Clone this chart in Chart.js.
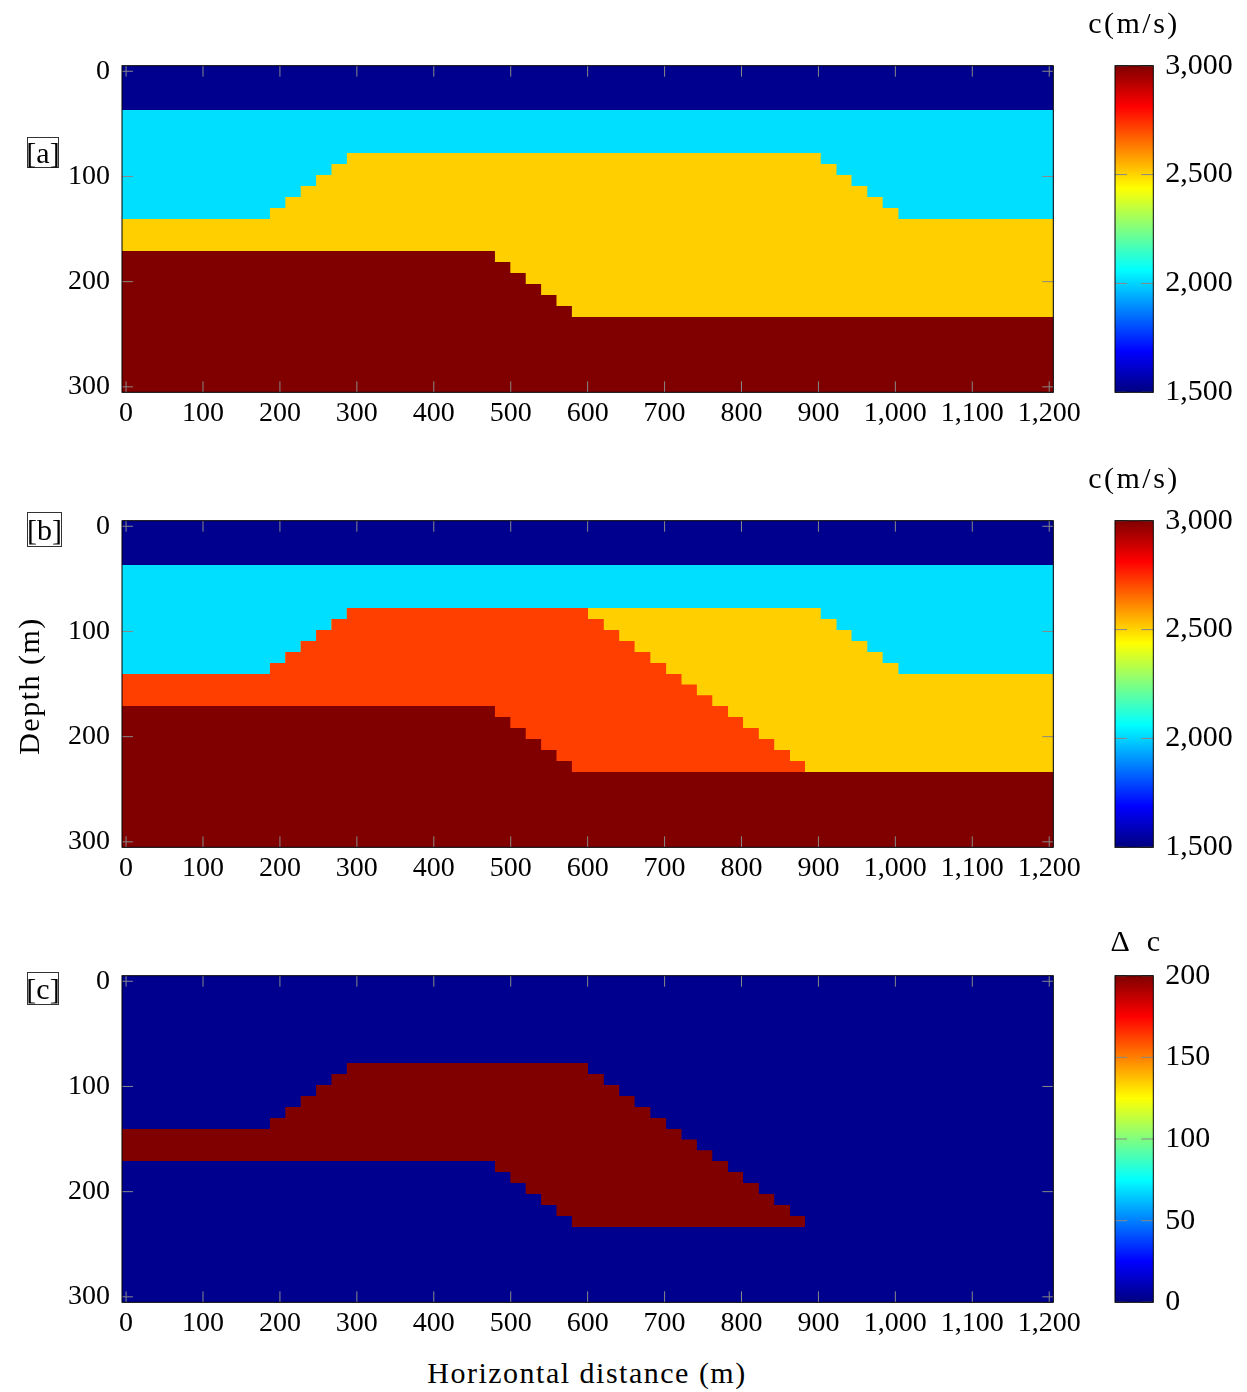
<!DOCTYPE html>
<html>
<head>
<meta charset="utf-8">
<script src="https://cdn.jsdelivr.net/npm/chart.js@4.4.1/dist/chart.umd.min.js"></script>
<style>
  html, body { margin: 0; padding: 0; background: #fff; }
  body { width: 1247px; height: 1392px; position: relative; overflow: hidden; font-family: "Liberation Serif", serif; color: #000; }
  .box { position: absolute; }
  canvas { display: block; }
  .txt { position: absolute; font-size: 30px; line-height: 1; letter-spacing: 1.5px; white-space: nowrap; transform: translate(-50%, -50%); }
  .tag { position: absolute; box-sizing: border-box; border: 1px solid #333; font-size: 30px; line-height: 1; display: flex; align-items: center; justify-content: center; }
</style>
</head>
<body>
<div class="box" style="left:0;top:0"><canvas id="panelA" width="1095" height="445"></canvas></div>
<div class="box" style="left:0;top:455px"><canvas id="panelB" width="1095" height="445"></canvas></div>
<div class="box" style="left:0;top:910px"><canvas id="panelC" width="1095" height="445"></canvas></div>
<div class="box" style="left:1095px;top:0"><canvas id="barA" width="152" height="445"></canvas></div>
<div class="box" style="left:1095px;top:455px"><canvas id="barB" width="152" height="445"></canvas></div>
<div class="box" style="left:1095px;top:910px"><canvas id="barC" width="152" height="445"></canvas></div>

<div class="tag" style="left:27px;top:137px;width:32px;height:31px">[a]</div>
<div class="tag" style="left:27px;top:512px;width:35px;height:35px">[b]</div>
<div class="tag" style="left:27px;top:972px;width:32px;height:33px">[c]</div>

<div class="txt" style="left:1134px;top:23px;letter-spacing:2.5px">c(m/s)</div>
<div class="txt" style="left:1134px;top:478px;letter-spacing:2.5px">c(m/s)</div>
<div class="txt" style="left:1136px;top:941px;word-spacing:8px">Δ c</div>
<div class="txt" style="left:29px;top:686px;transform:translate(-50%,-50%) rotate(-90deg)">Depth (m)</div>
<div class="txt" style="left:587px;top:1373px">Horizontal distance (m)</div>

<script>
// --- data ---
const xTicks = [0, 100, 200, 300, 400, 500, 600, 700, 800, 900, 1000, 1100, 1200];
const depthTicks = [0, 100, 200, 300];
const velTicks = [1500, 2000, 2500, 3000];
const deltaTicks = [0, 50, 100, 150, 200];

// interfaces: [x where the step starts (m), depth (m)]
const waterBottom = [[-10, 36.8], [1210, 36.8]];
const sedimentTop = [[-10, 140.4], [187, 130.0], [207, 119.5], [227, 109.0], [247, 98.6], [267, 88.1],
  [287, 77.7], [903, 88.1], [923.5, 98.6], [943, 109.0], [963.5, 119.5], [983.5, 130.0], [1004, 140.4], [1210, 140.4]];
const basementTop = [[-10, 170.9], [479.5, 181.3], [499.5, 191.8], [519.5, 202.3], [539.5, 212.7],
  [559.5, 223.2], [579.5, 233.6], [1210, 233.6]];
const anomalyRight = [[600.5, 88.1], [621, 98.6], [641, 109.0], [661, 119.5], [681.5, 130.0], [702, 140.4],
  [722, 150.4], [742, 160.7], [762, 170.9], [782.5, 181.3], [802, 191.8], [822.5, 202.3], [842.5, 212.7],
  [863, 223.2], [882.5, 233.6], [1210, 233.6]];

// layer colours (jet colormap of the velocities)
const WATER = '#00008f';
const UPPER = '#00dfff';
const SEDIMENT = '#ffcf00';
const ANOMALY = '#ff3f00';
const BASEMENT = '#800000';
const JET = ['#000080', '#0000ff', '#00ffff', '#ffff00', '#ff0000', '#800000'];
const JET_POS = [0, 1 / 8, 3 / 8, 5 / 8, 7 / 8, 1];

const FONT = "'Liberation Serif', serif";
Chart.defaults.font.family = FONT;
Chart.defaults.color = '#000';

// the anomaly top follows the sediment top until the diagonal starts
const anomalyTop = sedimentTop.filter(p => p[0] < anomalyRight[0][0]).concat(anomalyRight);

const toPts = arr => arr.map(p => ({ x: p[0], y: p[1] }));
const fmt = v => Number(v).toLocaleString('en-US');

// --- plugins ---
const background = {
  id: 'background',
  beforeDraw(chart, args, opts) {
    if (!opts.color) return;
    const a = chart.chartArea;
    chart.ctx.save();
    chart.ctx.fillStyle = opts.color;
    chart.ctx.fillRect(a.left, a.top, a.width, a.height);
    chart.ctx.restore();
  }
};

const frameTicks = {
  id: 'frameTicks',
  afterDatasetsDraw(chart, args, opts) {
    const { ctx, chartArea: a, scales } = chart;
    const len = opts.len || 11;
    ctx.save();
    ctx.strokeStyle = 'rgb(135,135,135)';
    ctx.lineWidth = 1;
    ctx.beginPath();
    (opts.x || []).forEach(v => {
      const px = scales.x.getPixelForValue(v);
      ctx.moveTo(px, a.top); ctx.lineTo(px, a.top + len);
      ctx.moveTo(px, a.bottom); ctx.lineTo(px, a.bottom - len);
    });
    (opts.y || []).forEach(v => {
      const py = scales.y.getPixelForValue(v);
      ctx.moveTo(a.left, py); ctx.lineTo(a.left + len, py);
      ctx.moveTo(a.right, py); ctx.lineTo(a.right - len, py);
    });
    ctx.stroke();
    ctx.strokeStyle = '#000';
    ctx.strokeRect(a.left, a.top, a.width, a.height);
    ctx.restore();
  }
};

// --- heat panels ---
function heatPanel(id, layers) {
  return new Chart(document.getElementById(id), {
    type: 'line',
    data: {
      datasets: layers.map((l, i) => ({
        data: toPts(l.edge),
        stepped: true,
        fill: { value: 400 },
        backgroundColor: l.color,
        borderColor: 'rgba(0,0,0,0)',
        borderWidth: 0,
        pointRadius: 0,
        order: layers.length - i
      }))
    },
    options: {
      responsive: false,
      animation: false,
      events: [],
      layout: { padding: { top: 65.7, right: 41.7, left: 0, bottom: 0 } },
      plugins: {
        legend: { display: false },
        tooltip: { enabled: false },
        background: { color: WATER },
        frameTicks: { x: xTicks, y: depthTicks, len: 11 }
      },
      scales: {
        x: {
          type: 'linear', min: -5.3, max: 1205.3,
          border: { display: false },
          grid: { display: false, drawTicks: false },
          afterBuildTicks: s => { s.ticks = xTicks.map(v => ({ value: v })); },
          afterFit: s => { s.height = 445 - 65.7 - 326.6; },
          ticks: { padding: 5, autoSkip: false, maxRotation: 0, font: { size: 28 }, callback: fmt }
        },
        y: {
          type: 'linear', reverse: true, min: -5.3, max: 305.2,
          border: { display: false },
          grid: { display: false, drawTicks: false },
          afterBuildTicks: s => { s.ticks = depthTicks.map(v => ({ value: v })); },
          afterFit: s => { s.width = 122; },
          ticks: { padding: 12, font: { size: 28 }, callback: fmt }
        }
      }
    },
    plugins: [background, frameTicks]
  });
}

heatPanel('panelA', [
  { edge: waterBottom, color: UPPER },
  { edge: sedimentTop, color: SEDIMENT },
  { edge: basementTop, color: BASEMENT }
]);
heatPanel('panelB', [
  { edge: waterBottom, color: UPPER },
  { edge: sedimentTop, color: SEDIMENT },
  { edge: anomalyTop, color: ANOMALY },
  { edge: basementTop, color: BASEMENT }
]);
heatPanel('panelC', [
  { edge: anomalyTop, color: BASEMENT },
  { edge: basementTop, color: WATER }
]);

// --- colour bars ---
function jetFill(chart) {
  const a = chart.chartArea;
  if (!a) return null;
  const y = chart.scales.y;
  const g = chart.ctx.createLinearGradient(0, y.getPixelForValue(y.min), 0, y.getPixelForValue(y.max));
  JET.forEach((c, i) => g.addColorStop(JET_POS[i], c));
  return g;
}

function colorBar(id, ticks) {
  const lo = ticks[0], hi = ticks[ticks.length - 1];
  return new Chart(document.getElementById(id), {
    type: 'bar',
    data: {
      labels: [''],
      datasets: [{
        data: [[lo, hi]],
        backgroundColor: c => jetFill(c.chart),
        borderWidth: 0,
        barPercentage: 1,
        categoryPercentage: 1
      }]
    },
    options: {
      responsive: false,
      animation: false,
      events: [],
      layout: { padding: { top: 65.7, left: 20, right: 0, bottom: 445 - 65.7 - 326.6 } },
      plugins: {
        legend: { display: false },
        tooltip: { enabled: false },
        frameTicks: { y: ticks, len: 12 }
      },
      scales: {
        x: { display: false },
        y: {
          position: 'right', min: lo, max: hi,
          border: { display: false },
          grid: { display: false, drawTicks: false },
          afterBuildTicks: s => { s.ticks = ticks.map(v => ({ value: v })); },
          afterFit: s => { s.width = 152 - 20 - 38.3; },
          ticks: { padding: 12, font: { size: 30 }, callback: fmt }
        }
      }
    },
    plugins: [frameTicks]
  });
}

colorBar('barA', velTicks);
colorBar('barB', velTicks);
colorBar('barC', deltaTicks);
</script>
</body>
</html>
